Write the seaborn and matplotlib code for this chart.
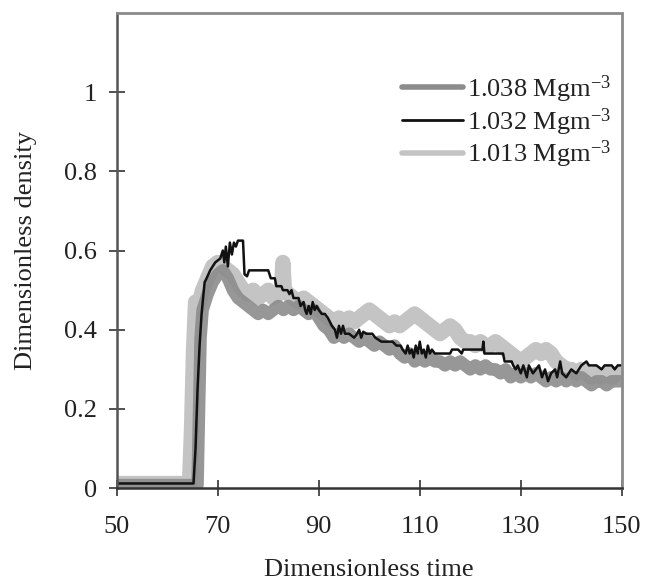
import matplotlib
matplotlib.use("Agg")
import matplotlib.pyplot as plt
from matplotlib.lines import Line2D
import numpy as np
import pandas as pd
import seaborn as sns

# --- series: dimensionless time / dimensionless density -------------------
t_1038 = [50, 66.0, 66.3, 66.6, 67, 68, 69, 70, 71, 72, 73, 74, 75, 76, 77, 78, 79, 80,
          81, 82, 83, 84, 85, 86, 87, 88, 89, 90, 91, 92, 93, 94, 95, 96, 97, 98, 99,
          100, 101, 102, 103, 104, 105, 106, 107, 108, 109, 110, 111, 112, 113, 114,
          115, 116, 117, 118, 119, 120, 121, 122, 123, 124, 125, 126, 127, 128, 129,
          130, 131, 132, 133, 134, 135, 136, 137, 138, 139, 140, 141, 142, 143, 144,
          145, 146, 147, 148, 149, 150]
v_1038 = [0.008, 0.008, 0.20, 0.38, 0.45, 0.49, 0.52, 0.54, 0.55, 0.53, 0.50, 0.48, 0.47,
          0.46, 0.45, 0.44, 0.45, 0.44, 0.45, 0.46, 0.45, 0.46, 0.45, 0.46, 0.45, 0.44,
          0.45, 0.43, 0.41, 0.40, 0.38, 0.39, 0.38, 0.39, 0.38, 0.37, 0.38, 0.37, 0.36,
          0.37, 0.36, 0.35, 0.36, 0.34, 0.33, 0.34, 0.32, 0.33, 0.32, 0.33, 0.32, 0.32,
          0.31, 0.32, 0.31, 0.32, 0.31, 0.30, 0.31, 0.30, 0.31, 0.30, 0.30, 0.29, 0.30,
          0.28, 0.29, 0.28, 0.29, 0.28, 0.29, 0.28, 0.27, 0.28, 0.27, 0.28, 0.27, 0.28,
          0.27, 0.28, 0.27, 0.26, 0.27, 0.27, 0.26, 0.27, 0.27, 0.27]

t_1032 = [50, 65.2, 65.6, 66.0, 66.4, 66.8, 67.4, 67.8, 68.5, 69.5, 70.5, 71.0, 71.3, 71.6,
          72.0, 72.4, 72.8, 73.2, 73.6, 74.0, 75.0, 75.3, 75.8, 76.2, 80.0, 80.5, 81.3,
          81.6, 82.6, 82.9, 83.8, 84.2, 84.6, 85.0, 86.0, 86.4, 87.0, 87.3, 87.6, 88.0,
          88.4, 88.8, 89.2, 89.6, 90.0, 90.6, 91.2, 91.8, 92.6, 93.2, 93.6, 94.0, 94.4,
          94.8, 95.2, 96.0, 97.0, 97.6, 98.0, 98.4, 98.8, 99.4, 100.6, 101.2, 102.4,
          104.6, 105.4, 106.2, 106.6, 107.2, 107.6, 108.0, 108.4, 108.8, 109.2, 109.6,
          110.0, 110.4, 110.8, 111.2, 111.6, 112.0, 112.4, 113.0, 116.0, 116.4, 117.6,
          118.3, 118.6, 122.4, 122.6, 122.8, 126.5, 126.8, 128.2, 128.5, 129.0, 129.4,
          130.0, 130.5, 131.2, 131.6, 132.4, 133.0, 133.6, 134.2, 134.8, 135.4, 136.0,
          136.8, 137.2, 137.8, 138.2, 139.0, 140.0, 141.0, 142.0, 143.0, 143.5, 145.0,
          146.0, 146.6, 148.0, 148.6, 149.2, 150.0]
v_1032 = [0.012, 0.012, 0.10, 0.25, 0.36, 0.44, 0.52, 0.53, 0.55, 0.57, 0.58, 0.60, 0.57,
          0.61, 0.56, 0.62, 0.59, 0.62, 0.61, 0.625, 0.625, 0.54, 0.535, 0.55, 0.55, 0.53,
          0.53, 0.51, 0.51, 0.50, 0.50, 0.49, 0.50, 0.48, 0.48, 0.46, 0.47, 0.45, 0.44,
          0.46, 0.44, 0.47, 0.45, 0.46, 0.45, 0.44, 0.44, 0.43, 0.41, 0.40, 0.38, 0.41,
          0.39, 0.41, 0.39, 0.39, 0.38, 0.39, 0.40, 0.38, 0.395, 0.39, 0.39, 0.38, 0.37,
          0.37, 0.36, 0.36, 0.35, 0.34, 0.36, 0.34, 0.35, 0.33, 0.36, 0.34, 0.37, 0.34,
          0.35, 0.33, 0.36, 0.34, 0.35, 0.34, 0.34, 0.35, 0.35, 0.34, 0.35, 0.35, 0.37,
          0.34, 0.34, 0.32, 0.32, 0.31, 0.30, 0.31, 0.29, 0.31, 0.28, 0.31, 0.29, 0.30,
          0.31, 0.28, 0.30, 0.27, 0.29, 0.30, 0.28, 0.32, 0.29, 0.28, 0.30, 0.29, 0.31,
          0.32, 0.31, 0.31, 0.30, 0.31, 0.31, 0.30, 0.31, 0.31]

t_1013 = [50, 64.4, 64.8, 65.2, 65.6, 66.2, 67, 68, 69, 70, 71, 72, 73, 74, 75, 76, 77,
          78, 79, 80, 81, 82, 82.6, 82.9, 83.2, 84, 85, 86, 87, 88, 89, 90, 91, 92, 93,
          94, 95, 96, 97, 98, 99, 100, 101, 102, 103, 104, 105, 106, 107, 108, 109, 110,
          111, 112, 113, 114, 115, 116, 117, 118, 119, 120, 121, 122, 123, 124, 125, 126,
          127, 128, 129, 130, 131, 132, 133, 134, 135, 136, 137, 138, 139, 140, 141, 142,
          143, 144, 145, 146, 147, 148, 149, 150]
v_1013 = [0.012, 0.012, 0.15, 0.35, 0.47, 0.46, 0.50, 0.53, 0.56, 0.57, 0.56, 0.55, 0.54,
          0.52, 0.50, 0.49, 0.50, 0.48, 0.49, 0.50, 0.48, 0.49, 0.50, 0.57, 0.50, 0.49,
          0.48, 0.47, 0.48, 0.47, 0.46, 0.45, 0.44, 0.43, 0.42, 0.43, 0.42, 0.43, 0.42,
          0.43, 0.44, 0.45, 0.44, 0.43, 0.42, 0.41, 0.42, 0.41, 0.42, 0.43, 0.44, 0.43,
          0.42, 0.41, 0.40, 0.39, 0.40, 0.41, 0.40, 0.38, 0.37, 0.37, 0.36, 0.37, 0.36,
          0.36, 0.37, 0.36, 0.35, 0.34, 0.33, 0.32, 0.33, 0.34, 0.35, 0.34, 0.35, 0.34,
          0.32, 0.31, 0.30, 0.30, 0.29, 0.30, 0.29, 0.28, 0.29, 0.28, 0.29, 0.28, 0.29,
          0.28]

labels = ["1.038 Mgm$^{\\mathregular{-3}}$",
          "1.032 Mgm$^{\\mathregular{-3}}$",
          "1.013 Mgm$^{\\mathregular{-3}}$"]
x_ticks = [50, 70, 90, 110, 130, 150]
y_ticks = [0, 0.2, 0.4, 0.6, 0.8, 1.0]
y_tick_labels = ["0", "0.2", "0.4", "0.6", "0.8", "1"]

# --- styling ---------------------------------------------------------------
sns.set_style("white")
plt.rcParams["font.family"] = ["Liberation Serif", "DejaVu Serif"]
plt.rcParams["mathtext.fontset"] = "custom"
plt.rcParams["mathtext.rm"] = "Liberation Serif"
plt.rcParams["mathtext.it"] = "Liberation Serif:italic"

FS = 19
dark_gray = "#8c8c8c"
light_gray = "#c4c4c4"

fig = plt.figure(figsize=(6.45, 5.84), dpi=100)
ax = fig.add_axes([0.181, 0.164, 0.783, 0.814])

df_light = pd.DataFrame({"t": t_1013, "v": v_1013})
df_dark = pd.DataFrame({"t": t_1038, "v": v_1038})
df_black = pd.DataFrame({"t": t_1032, "v": v_1032})

sns.lineplot(data=df_light, x="t", y="v", ax=ax, color=light_gray, lw=11,
             estimator=None, sort=False, solid_joinstyle="round",
             solid_capstyle="butt")
sns.lineplot(data=df_dark, x="t", y="v", ax=ax, color=dark_gray, lw=9, alpha=0.9,
             estimator=None, sort=False, solid_joinstyle="round",
             solid_capstyle="butt")
sns.lineplot(data=df_black, x="t", y="v", ax=ax, color="#111111", lw=1.8,
             estimator=None, sort=False)

ax.set_xlim(50, 150)
ax.set_ylim(0, 1.2)
ax.set_xticks(x_ticks)
ax.set_xticklabels([str(x) for x in x_ticks])
ax.set_yticks(y_ticks)
ax.set_yticklabels(y_tick_labels)
ax.tick_params(axis="both", direction="inout", length=12, width=1.2,
               color="#333333", labelsize=FS, labelcolor="#222222")
ax.tick_params(axis="x", pad=14)
ax.tick_params(axis="y", pad=8)
ax.xaxis.set_ticks_position("bottom")
ax.yaxis.set_ticks_position("left")

ax.set_xlabel("Dimensionless time", fontsize=FS, color="#222222", labelpad=15)
ax.set_ylabel("Dimensionless density", fontsize=FS, color="#222222", labelpad=20)

for side in ["top", "right"]:
    ax.spines[side].set_color("#8a8a8a")
    ax.spines[side].set_linewidth(2.0)
    ax.spines[side].set_linestyle((0, (1, 1)))
ax.spines["left"].set_color("#555555")
ax.spines["left"].set_linewidth(1.8)
ax.spines["bottom"].set_color("#333333")
ax.spines["bottom"].set_linewidth(1.8)

handles = [
    Line2D([], [], color=dark_gray, lw=4),
    Line2D([], [], color="#111111", lw=2),
    Line2D([], [], color=light_gray, lw=4),
]
ax.legend(handles, labels, loc="upper right", bbox_to_anchor=(1.0, 0.895),
          frameon=False, fontsize=FS, handlelength=2.3, handletextpad=0.15,
          labelspacing=0.05, borderaxespad=0, labelcolor="#222222")

fig.savefig("out.png", dpi=100, facecolor="white")
